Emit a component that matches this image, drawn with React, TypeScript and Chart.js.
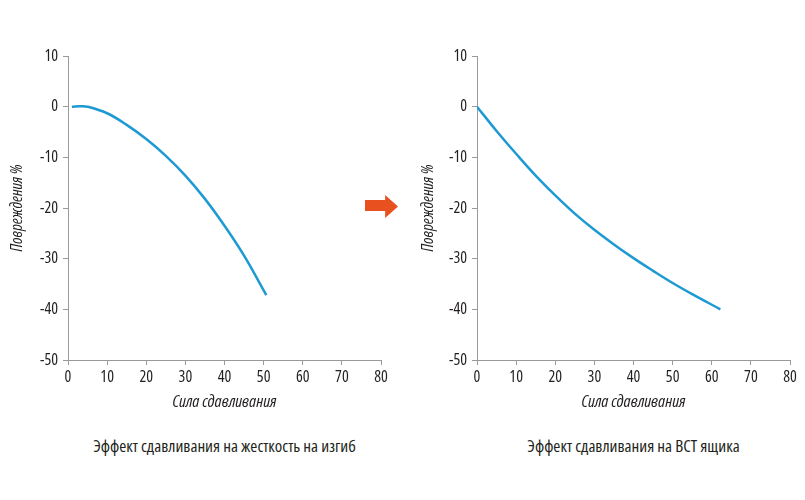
import Chart from "chart.js/auto";
import React, { useEffect, useRef } from "react";

// left chart: effect on bending stiffness
const bendX = [1, 3, 5, 10, 15, 20, 25, 30, 35, 40, 45, 50.7];
const bendY = [0, 0.1, 0, -1.3, -3.6, -6.4, -9.7, -13.6, -18.2, -23.5, -29.4, -37.2];

// right chart: effect on box BCT
const bctX = [0, 5, 10, 15, 20, 25, 30, 35, 40, 45, 50, 55, 62.2];
const bctY = [0, -4.8, -9.3, -13.6, -17.5, -21.1, -24.3, -27.2, -29.9, -32.4, -34.8, -37, -40];

const xTicks = [0, 10, 20, 30, 40, 50, 60, 70, 80];
const yTicks = [10, 0, -10, -20, -30, -40, -50];

const xTitle = "Сила сдавливания";
const yTitle = "Повреждения %";
const captions = ["Эффект сдавливания на жесткость на изгиб", "Эффект сдавливания на ВСТ ящика"];

const FONT = "'Open Sans', 'DejaVu Sans Condensed', sans-serif";
const STRETCH = "semi-condensed"; // goes into the canvas font shorthand
const LINE_COLOR = "#1e9ad2";
const AXIS_COLOR = "#9a9a9a";
const TEXT_COLOR = "#231f20";

interface CurveProps {
    xs: number[];
    ys: number[];
    left: number;
    width: number;
    padRight: number;
    titlePad: number;
    caption: string;
}

const Curve: React.FC<CurveProps> = ({ xs, ys, left, width, padRight, titlePad, caption }) => {
    const chartRef = useRef<HTMLCanvasElement | null>(null);
    const chartInstance = useRef<Chart | null>(null);

    useEffect(() => {
        if (chartInstance.current) {
            chartInstance.current.destroy();
        }
        if (!chartRef.current) return;
        const ctx = chartRef.current.getContext("2d");
        if (!ctx) return;

        const axisGrid = {
            display: true,
            drawOnChartArea: false,
            drawTicks: true,
            tickLength: 5,
            color: AXIS_COLOR,
            lineWidth: 1,
        };

        chartInstance.current = new Chart(ctx, {
            type: "line",
            data: {
                datasets: [
                    {
                        data: xs.map((x, i) => ({ x, y: ys[i] })),
                        borderColor: LINE_COLOR,
                        borderWidth: 2.5,
                        pointRadius: 0,
                        tension: 0.4,
                        fill: false,
                    },
                ],
            },
            options: {
                animation: false,
                responsive: false,
                maintainAspectRatio: false,
                devicePixelRatio: 1,
                layout: { padding: { top: 56, left: 0, right: padRight, bottom: 8 } },
                plugins: {
                    legend: { display: false },
                    tooltip: { enabled: false },
                },
                scales: {
                    x: {
                        type: "linear",
                        min: 0,
                        max: 80,
                        afterBuildTicks: (scale: any) => {
                            scale.ticks = xTicks.map((v) => ({ value: v }));
                        },
                        afterFit: (scale: any) => {
                            scale.height = 52;
                        },
                        grid: axisGrid,
                        border: { display: true, color: AXIS_COLOR, width: 1 },
                        ticks: {
                            color: TEXT_COLOR,
                            padding: 3,
                            maxRotation: 0,
                            font: { family: FONT, size: 16, weight: STRETCH as any },
                        },
                        title: {
                            display: true,
                            text: xTitle,
                            color: TEXT_COLOR,
                            padding: { top: 0, bottom: 0 },
                            font: { family: FONT, size: 17, style: "italic", weight: STRETCH as any },
                        },
                    },
                    y: {
                        type: "linear",
                        min: -50,
                        max: 10,
                        afterBuildTicks: (scale: any) => {
                            scale.ticks = yTicks.map((v) => ({ value: v }));
                        },
                        afterFit: (scale: any) => {
                            scale.width = 68;
                        },
                        grid: axisGrid,
                        border: { display: true, color: AXIS_COLOR, width: 1 },
                        ticks: {
                            color: TEXT_COLOR,
                            padding: 5,
                            font: { family: FONT, size: 16, weight: STRETCH as any },
                        },
                        title: {
                            display: true,
                            text: yTitle,
                            color: TEXT_COLOR,
                            padding: { top: titlePad, bottom: 0 },
                            font: { family: FONT, size: 16, style: "italic", weight: STRETCH as any },
                        },
                    },
                },
            },
        });

        return () => {
            if (chartInstance.current) {
                chartInstance.current.destroy();
                chartInstance.current = null;
            }
        };
    }, [xs, ys]);

    return (
        <>
            <div style={{ position: "absolute", left, top: 0, width, height: 420 }}>
                <canvas ref={chartRef} width={width} height={420} style={{ width, height: 420 }}></canvas>
            </div>
            <div
                style={{
                    position: "absolute",
                    left: left + 68,
                    top: 434,
                    width: width - 68 - padRight,
                    textAlign: "center",
                    fontFamily: FONT,
                    fontStretch: STRETCH,
                    fontSize: 17,
                    color: TEXT_COLOR,
                    whiteSpace: "nowrap",
                }}
            >
                {caption}
            </div>
        </>
    );
};

const App: React.FC = () => {
    return (
        <div
            style={{
                position: "fixed",
                left: 0,
                top: 0,
                width: 805,
                height: 500,
                background: "#fff",
                overflow: "hidden",
            }}
        >
            <Curve xs={bendX} ys={bendY} left={0} width={400} padRight={19} titlePad={8} caption={captions[0]} />
            {/* arrow between the two charts */}
            <div
                style={{
                    position: "absolute",
                    left: 365,
                    top: 195,
                    width: 33,
                    height: 23,
                    background: "#e8511f",
                    clipPath: "polygon(0 22%, 61% 22%, 61% 0, 100% 50%, 61% 100%, 61% 70%, 0 70%)",
                }}
            />
            <Curve xs={bctX} ys={bctY} left={409} width={396} padRight={15} titlePad={10} caption={captions[1]} />
        </div>
    );
};

export default App;
